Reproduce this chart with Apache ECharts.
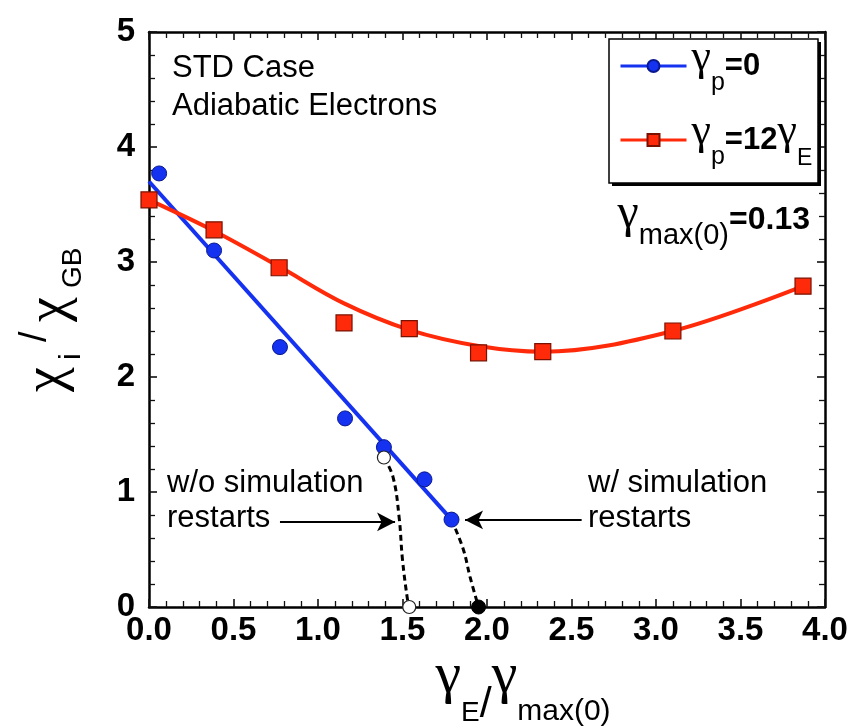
<!DOCTYPE html>
<html>
<head>
<meta charset="utf-8">
<script src="https://cdn.jsdelivr.net/npm/echarts@6/dist/echarts.min.js"></script>
<style>
  html, body { margin: 0; padding: 0; background: #fff; }
  #chart { width: 863px; height: 728px; }
</style>
</head>
<body>
<div id="chart"></div>
<script>
// γp = 0 runs (blue circles): γE/γmax(0) and χi/χGB
const blueX = [0.06, 0.385, 0.775, 1.16, 1.39, 1.63, 1.79];
const blueY = [3.77, 3.10, 2.26, 1.64, 1.39, 1.11, 0.76];
// straight-line fit through the γp = 0 runs
const blueFitX = [0, 1.79];
const blueFitY = [3.70, 0.76];

// γp = 12γE runs (red squares)
const redX = [0, 0.385, 0.77, 1.154, 1.54, 1.95, 2.33, 3.10, 3.87];
const redY = [3.54, 3.28, 2.95, 2.47, 2.42, 2.21, 2.22, 2.40, 2.79];
// smooth fit through the γp = 12γE runs
const redFitX = [0, 0.385, 0.77, 1.154, 1.54, 1.95, 2.33, 3.10, 3.87];
const redFitY = [3.54, 3.27, 2.96, 2.64, 2.41, 2.27, 2.22, 2.40, 2.79];

// dashed fall-off to zero transport
const noRestartX = [1.39, 1.444, 1.48, 1.50, 1.53, 1.54];
const noRestartY = [1.30, 1.13, 0.78, 0.41, 0.06, 0];
const restartX = [1.79, 1.86, 1.90, 1.95];
const restartY = [0.76, 0.50, 0.26, 0];

// end points: open = without restarts, filled = with restarts
const openX = [1.39, 1.54];
const openY = [1.30, 0];
const filledX = [1.95];
const filledY = [0];

// annotation arrows (tail x, tip x, height)
const arrowNoRestart = { from: 0.775, to: 1.456, y: 0.74 };
const arrowRestart = { from: 2.56, to: 1.87, y: 0.757 };

// axis ranges, tick labels and tick spacing
const xRange = [0, 4];
const yRange = [0, 5];
const xTickLabels = ['0.0', '0.5', '1.0', '1.5', '2.0', '2.5', '3.0', '3.5', '4.0'];
const yTickLabels = ['0', '1', '2', '3', '4', '5'];
const xMajorStep = 0.5;
const yMajorStep = 1;
const minorSplits = 5;

const BLUE = '#1432f0';
const RED = '#ff2a0a';
const SANS = "'Liberation Sans', Arial, sans-serif";
const SERIF = "'Liberation Serif', 'Times New Roman', serif";

const zip = (xs, ys) => xs.map((x, i) => [x, ys[i]]);

// frame: every side carries its own inward ticks
const frameLine = () => ({ show: true, onZero: false, lineStyle: { color: '#000', width: 2.5 } });
const majorTick = () => ({ show: true, inside: true, length: 8, lineStyle: { color: '#111', width: 1.6 } });
const minorTick = () => ({ show: true, splitNumber: minorSplits, length: 6, lineStyle: { color: '#111', width: 1.3 } });

const chart = echarts.init(document.getElementById('chart'), null, { renderer: 'canvas' });

chart.setOption({
  animation: false,
  backgroundColor: '#fff',
  grid: { show: false, left: 149, right: 38, top: 32, bottom: 121 },
  xAxis: [
    {
      type: 'value', min: xRange[0], max: xRange[1], interval: xMajorStep, position: 'bottom', z: 3,
      axisLine: frameLine(), axisTick: majorTick(), minorTick: minorTick(),
      splitLine: { show: false },
      axisLabel: {
        margin: 7, color: '#000', fontFamily: SANS, fontWeight: 'bold', fontSize: 33,
        formatter: v => xTickLabels[Math.round(v / xMajorStep)]
      }
    },
    {
      type: 'value', min: xRange[0], max: xRange[1], interval: xMajorStep, position: 'top', z: 3,
      axisLine: frameLine(), axisTick: majorTick(), minorTick: minorTick(),
      splitLine: { show: false }, axisLabel: { show: false }
    }
  ],
  yAxis: [
    {
      type: 'value', min: yRange[0], max: yRange[1], interval: yMajorStep, position: 'left', z: 3,
      axisLine: frameLine(), axisTick: majorTick(), minorTick: minorTick(),
      splitLine: { show: false },
      axisLabel: {
        margin: 14, color: '#000', fontFamily: SANS, fontWeight: 'bold', fontSize: 33,
        formatter: v => yTickLabels[Math.round(v / yMajorStep)]
      }
    },
    {
      type: 'value', min: yRange[0], max: yRange[1], interval: yMajorStep, position: 'right', z: 3,
      axisLine: frameLine(), axisTick: majorTick(), minorTick: minorTick(),
      splitLine: { show: false }, axisLabel: { show: false }
    }
  ],
  legend: {
    show: true,
    selectedMode: false,
    orient: 'vertical',
    left: 619,
    top: 36,
    padding: 0,
    itemGap: 14,
    itemWidth: 66,
    itemHeight: 15,
    lineStyle: { width: 3 },
    z: 6,
    data: ['γp=0', 'γp=12γE'],
    formatter: name => name === 'γp=0'
      ? '{g|γ}{s|p}{t|=0}'
      : '{g|γ}{s|p}{t|=12}{g|γ}{e|E}',
    textStyle: {
      color: '#000',
      rich: {
        t: { fontFamily: SANS, fontWeight: 'bold', fontSize: 31, lineHeight: 60, verticalAlign: 'middle', color: '#000' },
        g: { fontFamily: SERIF, fontSize: 44, lineHeight: 40, verticalAlign: 'top', color: '#000' },
        s: { fontFamily: SANS, fontSize: 25, lineHeight: 26, verticalAlign: 'bottom', color: '#000' },
        e: { fontFamily: SANS, fontSize: 23, lineHeight: 32, verticalAlign: 'bottom', color: '#000' }
      }
    }
  },
  graphic: [
    {
      // legend frame with a hard drop shadow
      type: 'rect', z: 5,
      shape: { x: 612, y: 42, width: 209, height: 144 },
      style: { fill: '#000' }
    },
    {
      type: 'rect', z: 5,
      shape: { x: 609, y: 39, width: 209, height: 144 },
      style: { fill: '#fff', stroke: '#000', lineWidth: 1.5 }
    },
    { type: 'text', x: 172, y: 68, z: 5, style: { text: 'STD Case', font: '31px ' + SANS, fill: '#000', verticalAlign: 'middle' } },
    { type: 'text', x: 172, y: 106, z: 5, style: { text: 'Adiabatic Electrons', font: '31px ' + SANS, fill: '#000', verticalAlign: 'middle' } },
    { type: 'text', x: 167, y: 483, z: 5, style: { text: 'w/o simulation', font: '31px ' + SANS, fill: '#000', verticalAlign: 'middle' } },
    { type: 'text', x: 167, y: 518, z: 5, style: { text: 'restarts', font: '31px ' + SANS, fill: '#000', verticalAlign: 'middle' } },
    { type: 'text', x: 588, y: 483, z: 5, style: { text: 'w/ simulation', font: '31px ' + SANS, fill: '#000', verticalAlign: 'middle' } },
    { type: 'text', x: 588, y: 518, z: 5, style: { text: 'restarts', font: '31px ' + SANS, fill: '#000', verticalAlign: 'middle' } },
    {
      // γmax(0) = 0.13
      type: 'text', x: 810, y: 220.5, z: 5,
      style: {
        text: '{g|γ}{m|max(0)}{t|=0.13}',
        align: 'right', verticalAlign: 'middle',
        rich: {
          g: { fontFamily: SERIF, fontSize: 48, lineHeight: 29, verticalAlign: 'top', fill: '#000' },
          m: { fontFamily: SANS, fontSize: 29, lineHeight: 18, verticalAlign: 'bottom', fill: '#000' },
          t: { fontFamily: SANS, fontWeight: 'bold', fontSize: 32, lineHeight: 60, verticalAlign: 'middle', fill: '#000' }
        }
      }
    },
    {
      // x-axis title γE / γmax(0)
      type: 'text', x: 523, y: 677, z: 5,
      style: {
        text: '{g|γ}{e|E}{sl|/}{g|γ}{m|max(0)}',
        align: 'center', verticalAlign: 'middle',
        rich: {
          g: { fontFamily: SERIF, fontSize: 58, lineHeight: 100, verticalAlign: 'middle', fill: '#000' },
          e: { fontFamily: SANS, fontSize: 28, lineHeight: 20, verticalAlign: 'bottom', fill: '#000' },
          m: { fontFamily: SANS, fontSize: 30, lineHeight: 36, verticalAlign: 'bottom', fill: '#000' },
          sl: { fontFamily: SANS, fontSize: 43, lineHeight: 73, verticalAlign: 'bottom', fill: '#000' }
        }
      }
    },
    {
      // y-axis title χi / χGB, written bottom-to-top
      type: 'group', x: 0, y: 402, rotation: Math.PI / 2, z: 5,
      children: [
        { type: 'text', x: 10, y: 47, style: { text: 'χ', font: '56px ' + SERIF, fill: '#000', verticalAlign: 'middle' } },
        { type: 'text', x: 42, y: 72, style: { text: 'i', font: '30px ' + SANS, fill: '#000', verticalAlign: 'middle' } },
        { type: 'text', x: 60, y: 36, style: { text: '/', font: '38px ' + SANS, fill: '#000', verticalAlign: 'middle' } },
        { type: 'text', x: 80, y: 50, style: { text: 'χ', font: '56px ' + SERIF, fill: '#000', verticalAlign: 'middle' } },
        { type: 'text', x: 114, y: 73, style: { text: 'GB', font: '28px ' + SANS, fill: '#000', verticalAlign: 'middle' } }
      ]
    }
  ],
  series: [
    {
      name: 'γp=0', type: 'line', data: zip(blueFitX, blueFitY),
      symbol: 'circle', symbolSize: 15, showSymbol: false, z: 4,
      lineStyle: { color: BLUE, width: 4 },
      itemStyle: { color: BLUE, borderColor: '#0a1890', borderWidth: 1 }
    },
    {
      name: 'γp=12γE', type: 'line', data: zip(redFitX, redFitY),
      symbol: 'rect', symbolSize: 15, showSymbol: false, smooth: 0.35, z: 4,
      lineStyle: { color: RED, width: 4 },
      itemStyle: { color: RED, borderColor: '#7a1000', borderWidth: 1 }
    },
    {
      name: 'noRestart', type: 'line', data: zip(noRestartX, noRestartY),
      showSymbol: false, smooth: 0.4, z: 4, silent: true,
      lineStyle: { color: '#000', width: 3, type: [6, 4] },
      markLine: {
        silent: true, symbol: ['none', 'arrow'], symbolSize: [14, 18],
        lineStyle: { color: '#000', width: 2, type: 'solid' },
        label: { show: false },
        data: [[
          { coord: [arrowNoRestart.from, arrowNoRestart.y] },
          { coord: [arrowNoRestart.to, arrowNoRestart.y] }
        ], [
          { coord: [arrowRestart.from, arrowRestart.y] },
          { coord: [arrowRestart.to, arrowRestart.y] }
        ]]
      }
    },
    {
      name: 'restart', type: 'line', data: zip(restartX, restartY),
      showSymbol: false, smooth: 0.4, z: 4, silent: true,
      lineStyle: { color: '#000', width: 3, type: [6, 4] }
    },
    {
      name: 'γp=0', type: 'scatter', data: zip(blueX, blueY),
      symbol: 'circle', symbolSize: 15, clip: false, z: 5,
      itemStyle: { color: BLUE, borderColor: '#0a1890', borderWidth: 1, opacity: 1 }
    },
    {
      name: 'γp=12γE', type: 'scatter', data: zip(redX, redY),
      symbol: 'rect', symbolSize: 16, clip: false, z: 5,
      itemStyle: { color: RED, borderColor: '#7a1000', borderWidth: 1.2, opacity: 1 }
    },
    {
      name: 'open', type: 'scatter', data: zip(openX, openY),
      symbol: 'circle', symbolSize: 13, clip: false, z: 6,
      itemStyle: { color: '#fff', borderColor: '#222', borderWidth: 1.2, opacity: 1 }
    },
    {
      name: 'filled', type: 'scatter', data: zip(filledX, filledY),
      symbol: 'circle', symbolSize: 14, clip: false, z: 6,
      itemStyle: { color: '#000', borderColor: '#000', borderWidth: 1, opacity: 1 }
    }
  ]
});
</script>
</body>
</html>
